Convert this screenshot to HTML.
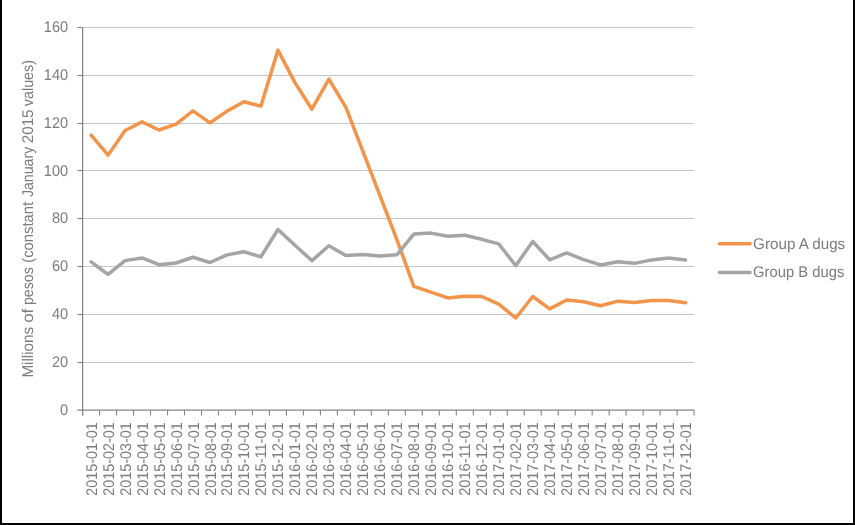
<!DOCTYPE html>
<html><head><meta charset="utf-8"><style>
html,body{margin:0;padding:0;background:#fff;}
body{width:855px;height:525px;overflow:hidden;position:relative;}
.frame{position:absolute;left:0;top:0;width:851px;height:523px;border-left:2px solid #000;border-right:2px solid #000;border-bottom:2px solid #000;}
svg{position:absolute;left:0;top:0;will-change:transform;text-rendering:geometricPrecision;}
text{font-family:"Liberation Sans",sans-serif;fill:#7c7c7c;}
</style></head><body>
<svg width="855" height="525" viewBox="0 0 855 525">
<line x1="82.60" y1="362.50" x2="694.10" y2="362.50" stroke="#c6c6c6" stroke-width="1"/>
<line x1="82.60" y1="314.50" x2="694.10" y2="314.50" stroke="#c6c6c6" stroke-width="1"/>
<line x1="82.60" y1="266.50" x2="694.10" y2="266.50" stroke="#c6c6c6" stroke-width="1"/>
<line x1="82.60" y1="218.50" x2="694.10" y2="218.50" stroke="#c6c6c6" stroke-width="1"/>
<line x1="82.60" y1="170.50" x2="694.10" y2="170.50" stroke="#c6c6c6" stroke-width="1"/>
<line x1="82.60" y1="123.50" x2="694.10" y2="123.50" stroke="#c6c6c6" stroke-width="1"/>
<line x1="82.60" y1="75.50" x2="694.10" y2="75.50" stroke="#c6c6c6" stroke-width="1"/>
<line x1="82.60" y1="27.50" x2="694.10" y2="27.50" stroke="#c6c6c6" stroke-width="1"/>
<line x1="77.3" y1="362.50" x2="82.60" y2="362.50" stroke="#868686" stroke-width="1.1"/>
<line x1="77.3" y1="314.50" x2="82.60" y2="314.50" stroke="#868686" stroke-width="1.1"/>
<line x1="77.3" y1="266.50" x2="82.60" y2="266.50" stroke="#868686" stroke-width="1.1"/>
<line x1="77.3" y1="218.50" x2="82.60" y2="218.50" stroke="#868686" stroke-width="1.1"/>
<line x1="77.3" y1="170.50" x2="82.60" y2="170.50" stroke="#868686" stroke-width="1.1"/>
<line x1="77.3" y1="123.50" x2="82.60" y2="123.50" stroke="#868686" stroke-width="1.1"/>
<line x1="77.3" y1="75.50" x2="82.60" y2="75.50" stroke="#868686" stroke-width="1.1"/>
<line x1="77.3" y1="27.50" x2="82.60" y2="27.50" stroke="#868686" stroke-width="1.1"/>
<line x1="82.60" y1="27.40" x2="82.60" y2="415.40" stroke="#868686" stroke-width="1.3"/>
<line x1="77.3" y1="410.10" x2="694.10" y2="410.10" stroke="#868686" stroke-width="1.3"/>
<line x1="82.60" y1="410.10" x2="82.60" y2="415.40" stroke="#868686" stroke-width="1.1"/>
<line x1="99.59" y1="410.10" x2="99.59" y2="415.40" stroke="#868686" stroke-width="1.1"/>
<line x1="116.57" y1="410.10" x2="116.57" y2="415.40" stroke="#868686" stroke-width="1.1"/>
<line x1="133.56" y1="410.10" x2="133.56" y2="415.40" stroke="#868686" stroke-width="1.1"/>
<line x1="150.54" y1="410.10" x2="150.54" y2="415.40" stroke="#868686" stroke-width="1.1"/>
<line x1="167.53" y1="410.10" x2="167.53" y2="415.40" stroke="#868686" stroke-width="1.1"/>
<line x1="184.52" y1="410.10" x2="184.52" y2="415.40" stroke="#868686" stroke-width="1.1"/>
<line x1="201.50" y1="410.10" x2="201.50" y2="415.40" stroke="#868686" stroke-width="1.1"/>
<line x1="218.49" y1="410.10" x2="218.49" y2="415.40" stroke="#868686" stroke-width="1.1"/>
<line x1="235.47" y1="410.10" x2="235.47" y2="415.40" stroke="#868686" stroke-width="1.1"/>
<line x1="252.46" y1="410.10" x2="252.46" y2="415.40" stroke="#868686" stroke-width="1.1"/>
<line x1="269.45" y1="410.10" x2="269.45" y2="415.40" stroke="#868686" stroke-width="1.1"/>
<line x1="286.43" y1="410.10" x2="286.43" y2="415.40" stroke="#868686" stroke-width="1.1"/>
<line x1="303.42" y1="410.10" x2="303.42" y2="415.40" stroke="#868686" stroke-width="1.1"/>
<line x1="320.41" y1="410.10" x2="320.41" y2="415.40" stroke="#868686" stroke-width="1.1"/>
<line x1="337.39" y1="410.10" x2="337.39" y2="415.40" stroke="#868686" stroke-width="1.1"/>
<line x1="354.38" y1="410.10" x2="354.38" y2="415.40" stroke="#868686" stroke-width="1.1"/>
<line x1="371.36" y1="410.10" x2="371.36" y2="415.40" stroke="#868686" stroke-width="1.1"/>
<line x1="388.35" y1="410.10" x2="388.35" y2="415.40" stroke="#868686" stroke-width="1.1"/>
<line x1="405.34" y1="410.10" x2="405.34" y2="415.40" stroke="#868686" stroke-width="1.1"/>
<line x1="422.32" y1="410.10" x2="422.32" y2="415.40" stroke="#868686" stroke-width="1.1"/>
<line x1="439.31" y1="410.10" x2="439.31" y2="415.40" stroke="#868686" stroke-width="1.1"/>
<line x1="456.29" y1="410.10" x2="456.29" y2="415.40" stroke="#868686" stroke-width="1.1"/>
<line x1="473.28" y1="410.10" x2="473.28" y2="415.40" stroke="#868686" stroke-width="1.1"/>
<line x1="490.27" y1="410.10" x2="490.27" y2="415.40" stroke="#868686" stroke-width="1.1"/>
<line x1="507.25" y1="410.10" x2="507.25" y2="415.40" stroke="#868686" stroke-width="1.1"/>
<line x1="524.24" y1="410.10" x2="524.24" y2="415.40" stroke="#868686" stroke-width="1.1"/>
<line x1="541.23" y1="410.10" x2="541.23" y2="415.40" stroke="#868686" stroke-width="1.1"/>
<line x1="558.21" y1="410.10" x2="558.21" y2="415.40" stroke="#868686" stroke-width="1.1"/>
<line x1="575.20" y1="410.10" x2="575.20" y2="415.40" stroke="#868686" stroke-width="1.1"/>
<line x1="592.18" y1="410.10" x2="592.18" y2="415.40" stroke="#868686" stroke-width="1.1"/>
<line x1="609.17" y1="410.10" x2="609.17" y2="415.40" stroke="#868686" stroke-width="1.1"/>
<line x1="626.16" y1="410.10" x2="626.16" y2="415.40" stroke="#868686" stroke-width="1.1"/>
<line x1="643.14" y1="410.10" x2="643.14" y2="415.40" stroke="#868686" stroke-width="1.1"/>
<line x1="660.13" y1="410.10" x2="660.13" y2="415.40" stroke="#868686" stroke-width="1.1"/>
<line x1="677.11" y1="410.10" x2="677.11" y2="415.40" stroke="#868686" stroke-width="1.1"/>
<line x1="694.10" y1="410.10" x2="694.10" y2="415.40" stroke="#868686" stroke-width="1.1"/>
<text transform="translate(68.1,414.70) scale(0.94,1)" text-anchor="end" style="font-size:15.5px">0</text>
<text transform="translate(68.1,366.86) scale(0.94,1)" text-anchor="end" style="font-size:15.5px">20</text>
<text transform="translate(68.1,319.03) scale(0.94,1)" text-anchor="end" style="font-size:15.5px">40</text>
<text transform="translate(68.1,271.19) scale(0.94,1)" text-anchor="end" style="font-size:15.5px">60</text>
<text transform="translate(68.1,223.35) scale(0.94,1)" text-anchor="end" style="font-size:15.5px">80</text>
<text transform="translate(68.1,175.51) scale(0.94,1)" text-anchor="end" style="font-size:15.5px">100</text>
<text transform="translate(68.1,127.67) scale(0.94,1)" text-anchor="end" style="font-size:15.5px">120</text>
<text transform="translate(68.1,79.84) scale(0.94,1)" text-anchor="end" style="font-size:15.5px">140</text>
<text transform="translate(68.1,32.00) scale(0.94,1)" text-anchor="end" style="font-size:15.5px">160</text>
<text transform="translate(96.59,495.8) rotate(-90)" textLength="73.5" lengthAdjust="spacingAndGlyphs" style="font-size:15.5px">2015-01-01</text>
<text transform="translate(113.58,495.8) rotate(-90)" textLength="73.5" lengthAdjust="spacingAndGlyphs" style="font-size:15.5px">2015-02-01</text>
<text transform="translate(130.57,495.8) rotate(-90)" textLength="73.5" lengthAdjust="spacingAndGlyphs" style="font-size:15.5px">2015-03-01</text>
<text transform="translate(147.55,495.8) rotate(-90)" textLength="73.5" lengthAdjust="spacingAndGlyphs" style="font-size:15.5px">2015-04-01</text>
<text transform="translate(164.54,495.8) rotate(-90)" textLength="73.5" lengthAdjust="spacingAndGlyphs" style="font-size:15.5px">2015-05-01</text>
<text transform="translate(181.52,495.8) rotate(-90)" textLength="73.5" lengthAdjust="spacingAndGlyphs" style="font-size:15.5px">2015-06-01</text>
<text transform="translate(198.51,495.8) rotate(-90)" textLength="73.5" lengthAdjust="spacingAndGlyphs" style="font-size:15.5px">2015-07-01</text>
<text transform="translate(215.50,495.8) rotate(-90)" textLength="73.5" lengthAdjust="spacingAndGlyphs" style="font-size:15.5px">2015-08-01</text>
<text transform="translate(232.48,495.8) rotate(-90)" textLength="73.5" lengthAdjust="spacingAndGlyphs" style="font-size:15.5px">2015-09-01</text>
<text transform="translate(249.47,495.8) rotate(-90)" textLength="73.5" lengthAdjust="spacingAndGlyphs" style="font-size:15.5px">2015-10-01</text>
<text transform="translate(266.45,495.8) rotate(-90)" textLength="73.5" lengthAdjust="spacingAndGlyphs" style="font-size:15.5px">2015-11-01</text>
<text transform="translate(283.44,495.8) rotate(-90)" textLength="73.5" lengthAdjust="spacingAndGlyphs" style="font-size:15.5px">2015-12-01</text>
<text transform="translate(300.43,495.8) rotate(-90)" textLength="73.5" lengthAdjust="spacingAndGlyphs" style="font-size:15.5px">2016-01-01</text>
<text transform="translate(317.41,495.8) rotate(-90)" textLength="73.5" lengthAdjust="spacingAndGlyphs" style="font-size:15.5px">2016-02-01</text>
<text transform="translate(334.40,495.8) rotate(-90)" textLength="73.5" lengthAdjust="spacingAndGlyphs" style="font-size:15.5px">2016-03-01</text>
<text transform="translate(351.38,495.8) rotate(-90)" textLength="73.5" lengthAdjust="spacingAndGlyphs" style="font-size:15.5px">2016-04-01</text>
<text transform="translate(368.37,495.8) rotate(-90)" textLength="73.5" lengthAdjust="spacingAndGlyphs" style="font-size:15.5px">2016-05-01</text>
<text transform="translate(385.36,495.8) rotate(-90)" textLength="73.5" lengthAdjust="spacingAndGlyphs" style="font-size:15.5px">2016-06-01</text>
<text transform="translate(402.34,495.8) rotate(-90)" textLength="73.5" lengthAdjust="spacingAndGlyphs" style="font-size:15.5px">2016-07-01</text>
<text transform="translate(419.33,495.8) rotate(-90)" textLength="73.5" lengthAdjust="spacingAndGlyphs" style="font-size:15.5px">2016-08-01</text>
<text transform="translate(436.32,495.8) rotate(-90)" textLength="73.5" lengthAdjust="spacingAndGlyphs" style="font-size:15.5px">2016-09-01</text>
<text transform="translate(453.30,495.8) rotate(-90)" textLength="73.5" lengthAdjust="spacingAndGlyphs" style="font-size:15.5px">2016-10-01</text>
<text transform="translate(470.29,495.8) rotate(-90)" textLength="73.5" lengthAdjust="spacingAndGlyphs" style="font-size:15.5px">2016-11-01</text>
<text transform="translate(487.27,495.8) rotate(-90)" textLength="73.5" lengthAdjust="spacingAndGlyphs" style="font-size:15.5px">2016-12-01</text>
<text transform="translate(504.26,495.8) rotate(-90)" textLength="73.5" lengthAdjust="spacingAndGlyphs" style="font-size:15.5px">2017-01-01</text>
<text transform="translate(521.25,495.8) rotate(-90)" textLength="73.5" lengthAdjust="spacingAndGlyphs" style="font-size:15.5px">2017-02-01</text>
<text transform="translate(538.23,495.8) rotate(-90)" textLength="73.5" lengthAdjust="spacingAndGlyphs" style="font-size:15.5px">2017-03-01</text>
<text transform="translate(555.22,495.8) rotate(-90)" textLength="73.5" lengthAdjust="spacingAndGlyphs" style="font-size:15.5px">2017-04-01</text>
<text transform="translate(572.20,495.8) rotate(-90)" textLength="73.5" lengthAdjust="spacingAndGlyphs" style="font-size:15.5px">2017-05-01</text>
<text transform="translate(589.19,495.8) rotate(-90)" textLength="73.5" lengthAdjust="spacingAndGlyphs" style="font-size:15.5px">2017-06-01</text>
<text transform="translate(606.18,495.8) rotate(-90)" textLength="73.5" lengthAdjust="spacingAndGlyphs" style="font-size:15.5px">2017-07-01</text>
<text transform="translate(623.16,495.8) rotate(-90)" textLength="73.5" lengthAdjust="spacingAndGlyphs" style="font-size:15.5px">2017-08-01</text>
<text transform="translate(640.15,495.8) rotate(-90)" textLength="73.5" lengthAdjust="spacingAndGlyphs" style="font-size:15.5px">2017-09-01</text>
<text transform="translate(657.13,495.8) rotate(-90)" textLength="73.5" lengthAdjust="spacingAndGlyphs" style="font-size:15.5px">2017-10-01</text>
<text transform="translate(674.12,495.8) rotate(-90)" textLength="73.5" lengthAdjust="spacingAndGlyphs" style="font-size:15.5px">2017-11-01</text>
<text transform="translate(691.11,495.8) rotate(-90)" textLength="73.5" lengthAdjust="spacingAndGlyphs" style="font-size:15.5px">2017-12-01</text>
<text transform="translate(33.3,377.62) rotate(-90)" textLength="50.67" lengthAdjust="spacingAndGlyphs" style="font-size:15.5px">Millions</text>
<text transform="translate(33.3,322.87) rotate(-90)" textLength="14.22" lengthAdjust="spacingAndGlyphs" style="font-size:15.5px">of</text>
<text transform="translate(33.3,305.05) rotate(-90)" textLength="37.88" lengthAdjust="spacingAndGlyphs" style="font-size:15.5px">pesos</text>
<text transform="translate(33.3,262.79) rotate(-90)" textLength="60.86" lengthAdjust="spacingAndGlyphs" style="font-size:15.5px">(constant</text>
<text transform="translate(33.3,197.04) rotate(-90)" textLength="50.24" lengthAdjust="spacingAndGlyphs" style="font-size:15.5px">January</text>
<text transform="translate(33.3,143.26) rotate(-90)" textLength="33.81" lengthAdjust="spacingAndGlyphs" style="font-size:15.5px">2015</text>
<text transform="translate(33.3,106.20) rotate(-90)" textLength="46.26" lengthAdjust="spacingAndGlyphs" style="font-size:15.5px">values)</text>
<path d="M91.09,135.03 L108.08,155.13 L125.07,130.49 L142.05,121.88 L159.04,130.01 L176.02,124.03 L193.01,110.88 L210.00,122.84 L226.98,111.12 L243.97,101.79 L260.95,106.09 L277.94,50.12 L294.93,82.65 L311.91,109.20 L328.90,79.06 L345.88,107.29 L362.87,151.30 L379.86,195.31 L396.84,239.56 L413.83,286.44 L430.82,292.18 L447.80,297.92 L464.79,296.25 L481.77,296.49 L498.76,304.14 L515.75,318.01 L532.73,296.49 L549.72,308.92 L566.70,300.07 L583.69,301.75 L600.68,305.81 L617.66,301.15 L634.65,302.47 L651.63,300.55 L668.62,300.55 L685.61,302.70" fill="none" stroke="#F2944A" stroke-width="3.5" stroke-linejoin="round" stroke-linecap="round"/>
<path d="M91.09,261.80 L108.08,274.48 L125.07,260.61 L142.05,257.98 L159.04,264.67 L176.02,263.00 L193.01,257.26 L210.00,262.52 L226.98,254.87 L243.97,251.76 L260.95,256.78 L277.94,229.51 L294.93,245.30 L311.91,260.61 L328.90,245.78 L345.88,255.58 L362.87,254.39 L379.86,256.06 L396.84,254.87 L413.83,234.06 L430.82,233.10 L447.80,236.21 L464.79,235.25 L481.77,239.32 L498.76,243.86 L515.75,265.63 L532.73,241.47 L549.72,259.77 L566.70,252.95 L583.69,259.65 L600.68,264.91 L617.66,261.68 L634.65,263.36 L651.63,259.89 L668.62,257.98 L685.61,259.89" fill="none" stroke="#A5A5A5" stroke-width="3.5" stroke-linejoin="round" stroke-linecap="round"/>
<line x1="719.4" y1="243.7" x2="750.1" y2="243.7" stroke="#F2944A" stroke-width="3.5" stroke-linecap="round"/>
<line x1="719.4" y1="272.5" x2="750.1" y2="272.5" stroke="#A5A5A5" stroke-width="3.5" stroke-linecap="round"/>
<text x="753.1" y="248.7" textLength="92.1" lengthAdjust="spacingAndGlyphs" style="font-size:15.5px">Group A dugs</text>
<text x="753.1" y="276.90" textLength="91.30" lengthAdjust="spacingAndGlyphs" style="font-size:15.5px">Group B dugs</text>
</svg>
<div class="frame"></div>
</body></html>
